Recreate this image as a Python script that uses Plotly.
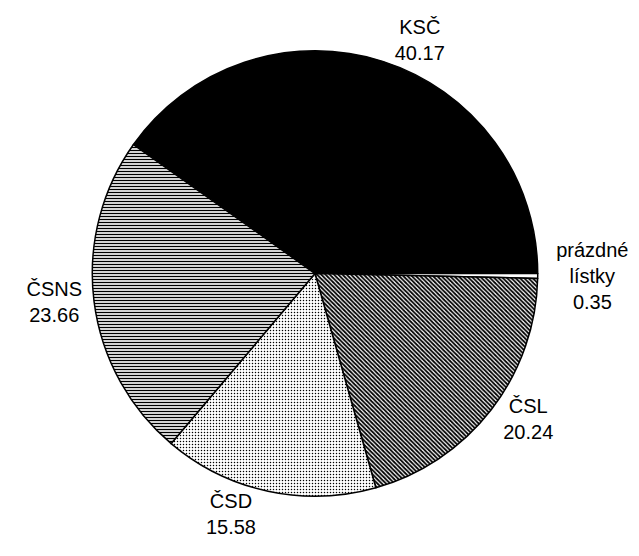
import plotly.graph_objects as go

parties = ["KSČ", "prázdné<br>lístky", "ČSL", "ČSD", "ČSNS"]
shares = [40.17, 0.35, 20.24, 15.58, 23.66]
value_labels = ["40.17", "0.35", "20.24", "15.58", "23.66"]

fills = ["black", "white", "white", "white", "white"]
pattern_shapes = ["", "", "\\", ".", "-"]
pattern_sizes = [8, 8, 3, 3, 3]
pattern_solidity = [0.3, 0.3, 0.6, 0.2, 0.45]

fig = go.Figure(go.Pie(
    labels=parties,
    values=shares,
    text=[f"{p}<br>{v}" for p, v in zip(parties, value_labels)],
    textinfo="text",
    textposition="outside",
    sort=False,
    direction="clockwise",
    rotation=-54.6,
    marker=dict(
        colors=fills,
        line=dict(color="black", width=1.5),
        pattern=dict(shape=pattern_shapes, fgcolor="black", bgcolor="white",
                     size=pattern_sizes, solidity=pattern_solidity),
    ),
    textfont=dict(family="Liberation Sans, Arial, sans-serif", size=20, color="black"),
    showlegend=False,
    hoverinfo="none",
    domain=dict(x=[0.065, 0.935], y=[0.125, 0.99]),
))

fig.update_layout(
    width=639, height=556,
    margin=dict(l=0, r=0, t=0, b=0),
    paper_bgcolor="white",
    plot_bgcolor="white",
)

fig.write_html("out.html")
